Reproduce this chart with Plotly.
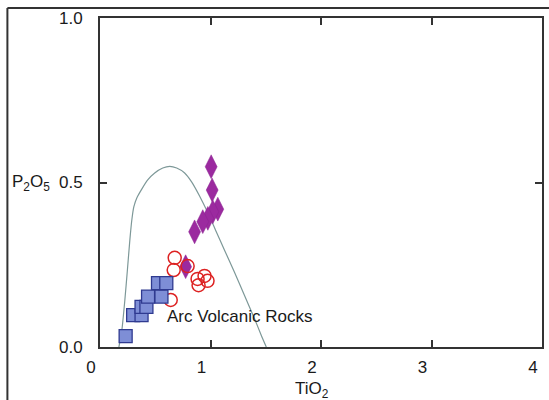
import plotly.graph_objects as go

# Field boundary curve (Arc Volcanic Rocks)
curve_tio2 = [0.171, 0.198, 0.225, 0.248, 0.270, 0.288, 0.306, 0.333, 0.378, 0.432, 0.495, 0.568,
              0.631, 0.694, 0.766, 0.829, 0.901, 0.973, 1.045, 1.126, 1.216, 1.306, 1.396, 1.459, 1.505]
curve_p2o5 = [0.000, 0.052, 0.143, 0.234, 0.325, 0.386, 0.426, 0.453, 0.480, 0.508, 0.529, 0.544,
              0.549, 0.544, 0.529, 0.502, 0.459, 0.410, 0.356, 0.295, 0.228, 0.158, 0.088, 0.036, 0.000]

# Blue squares
sq_tio2 = [0.232, 0.300, 0.376, 0.376, 0.420, 0.435, 0.556, 0.525, 0.600]
sq_p2o5 = [0.033, 0.097, 0.097, 0.122, 0.122, 0.153, 0.153, 0.194, 0.194]

# Red open circles
ci_tio2 = [0.676, 0.667, 0.793, 0.883, 0.946, 0.973, 0.892, 0.640]
ci_p2o5 = [0.271, 0.234, 0.246, 0.207, 0.216, 0.201, 0.188, 0.143]

# Purple diamonds
di_tio2 = [1.006, 1.015, 1.066, 1.021, 0.976, 0.930, 0.856, 0.775]
di_p2o5 = [0.548, 0.477, 0.419, 0.411, 0.391, 0.381, 0.350, 0.244]

x_ticks = [0, 1, 2, 3, 4]
y_ticks = [0.0, 0.5, 1.0]
y_tick_text = ["0.0", "0.5", "1.0"]

FONT = "Liberation Sans, Arial, sans-serif"
TXT = "#1a1a1a"
AX = "#333333"

fig = go.Figure()
fig.add_trace(go.Scatter(x=curve_tio2, y=curve_p2o5, mode="lines",
                         line=dict(color="#7d9898", width=1.2, shape="spline", smoothing=0.6),
                         hoverinfo="skip", showlegend=False))
fig.add_trace(go.Scatter(x=di_tio2, y=di_p2o5, mode="markers",
                         marker=dict(symbol="diamond-tall", size=17, color="#9b2a9f",
                                     line=dict(color="#8a2290", width=0.5)),
                         showlegend=False))
fig.add_trace(go.Scatter(x=ci_tio2, y=ci_p2o5, mode="markers",
                         marker=dict(symbol="circle-open", size=13, color="#dd2222",
                                     line=dict(color="#dd2222", width=1.5)),
                         showlegend=False))
fig.add_trace(go.Scatter(x=sq_tio2, y=sq_p2o5, mode="markers",
                         marker=dict(symbol="square", size=13, color="#7e8ed6",
                                     line=dict(color="#2f3a90", width=1.3)),
                         showlegend=False))

fig.update_layout(
    width=549, height=400,
    margin=dict(l=100, r=5, t=18, b=53),
    paper_bgcolor="white", plot_bgcolor="white",
    font=dict(family=FONT, size=17, color=TXT),
    xaxis=dict(range=[0, 4], tickvals=x_ticks, ticktext=[str(v) for v in x_ticks],
               ticks="inside", ticklen=7, tickwidth=1.5, tickcolor=AX,
               showline=True, linecolor=AX, linewidth=1.8, mirror="ticks",
               showgrid=False, zeroline=False, ticklabelshift=-9, ticklabelstandoff=4),
    yaxis=dict(range=[0, 1], tickvals=y_ticks, ticktext=y_tick_text,
               ticks="inside", ticklen=7, tickwidth=1.5, tickcolor=AX,
               showline=True, linecolor=AX, linewidth=1.8, mirror="ticks",
               showgrid=False, zeroline=False, ticklabelstandoff=12),
    annotations=[
        dict(text="Arc Volcanic Rocks", x=0.586, y=0.094, xref="x", yref="y",
             xanchor="left", yanchor="middle", showarrow=False,
             font=dict(family=FONT, size=17, color=TXT)),
        dict(text="TiO<sub>2</sub>", x=1.92, y=-0.092, xref="x", yref="paper",
             xanchor="center", yanchor="top", showarrow=False,
             font=dict(family=FONT, size=17, color=TXT)),
        dict(text="P<sub>2</sub>O<sub>5</sub>", x=-0.155, y=0.5, xref="paper", yref="y",
             xanchor="center", yanchor="middle", showarrow=False,
             font=dict(family=FONT, size=17, color=TXT)),
    ],
    shapes=[
        dict(type="line", xref="paper", yref="paper", x0=-0.2095, x1=-0.2095, y0=-0.2, y1=1.0304,
             line=dict(color=AX, width=2)),
        dict(type="line", xref="paper", yref="paper", x0=-0.2095, x1=1.02, y0=1.0304, y1=1.0304,
             line=dict(color=AX, width=2)),
    ],
)

fig.write_html("out.html")
